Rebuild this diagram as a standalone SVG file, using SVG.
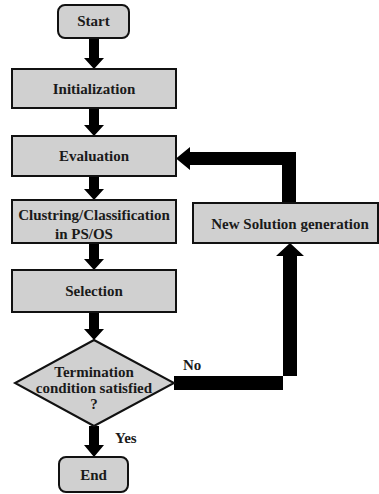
<svg xmlns="http://www.w3.org/2000/svg" width="379" height="494" viewBox="0 0 379 494">
  <style>
    .box { fill: #d0d0d0; stroke: #111; stroke-width: 2; }
    .lbl { font-family: "Liberation Serif", "Times New Roman", serif; font-weight: bold; font-size: 15px; fill: #1a1a1a; }
    .mid { text-anchor: middle; }
    .conn { fill: #000; stroke: none; }
  </style>
  <rect width="379" height="494" fill="#fff"/>

  <!-- connectors: solid block arrows -->
  <g id="connectors">
    <polygon class="conn" points="89,38 99,38 99,58 104,58 94,69 84,58 89,58"/>
    <polygon class="conn" points="89,108 99,108 99,125 104,125 94,136 84,125 89,125"/>
    <polygon class="conn" points="89,176 99,176 99,189 104,189 94,200 84,189 89,189"/>
    <polygon class="conn" points="89,243 99,243 99,259 104,259 94,270 84,259 89,259"/>
    <polygon class="conn" points="89,312 99,312 99,329 104,329 94,340 84,329 89,329"/>
    <!-- Yes branch -->
    <polygon class="conn" points="89,426 99,426 99,445 104,445 94,457 84,445 89,445"/>
    <!-- No branch up to New Solution generation -->
    <polygon class="conn" points="174,376 297,376 297,256 304,256 290,243 276,256 283,256 283,390 174,390"/>
    <!-- feedback from New Solution generation to Evaluation -->
    <polygon class="conn" points="282,203 282,165 190,165 190,170 176,158.5 190,147 190,152 296,152 296,203"/>
  </g>

  <g id="start">
    <rect class="box" x="58" y="5" width="71" height="33" rx="7"/>
    <text class="lbl mid" x="93.5" y="26">Start</text>
  </g>
  <g id="initialization">
    <rect class="box" x="12" y="69" width="164" height="39"/>
    <text class="lbl mid" x="94" y="94">Initialization</text>
  </g>
  <g id="evaluation">
    <rect class="box" x="12" y="136" width="164" height="40"/>
    <text class="lbl mid" x="94" y="161">Evaluation</text>
  </g>
  <g id="clustering">
    <rect class="box" x="12" y="200" width="164" height="43"/>
    <text class="lbl mid" x="94" y="220">Clustring/Classification</text>
    <text class="lbl" x="55" y="239">in PS/OS</text>
  </g>
  <g id="selection">
    <rect class="box" x="12" y="270" width="164" height="42"/>
    <text class="lbl mid" x="94" y="296">Selection</text>
  </g>
  <g id="termination">
    <polygon class="box" points="94,340 174,383 94,426 15,383"/>
    <text class="lbl mid" x="94" y="377">Termination</text>
    <text class="lbl mid" x="94" y="393">condition satisfied</text>
    <text class="lbl mid" x="94" y="409">?</text>
  </g>
  <g id="end">
    <rect class="box" x="59" y="457" width="69" height="35" rx="7"/>
    <text class="lbl mid" x="93.5" y="480">End</text>
  </g>
  <g id="new-solution">
    <rect class="box" x="193" y="203" width="185" height="40"/>
    <text class="lbl mid" x="290" y="228.5" font-size="16">New Solution generation</text>
  </g>

  <text class="lbl" x="115" y="443">Yes</text>
  <text class="lbl" x="183" y="370">No</text>
</svg>
